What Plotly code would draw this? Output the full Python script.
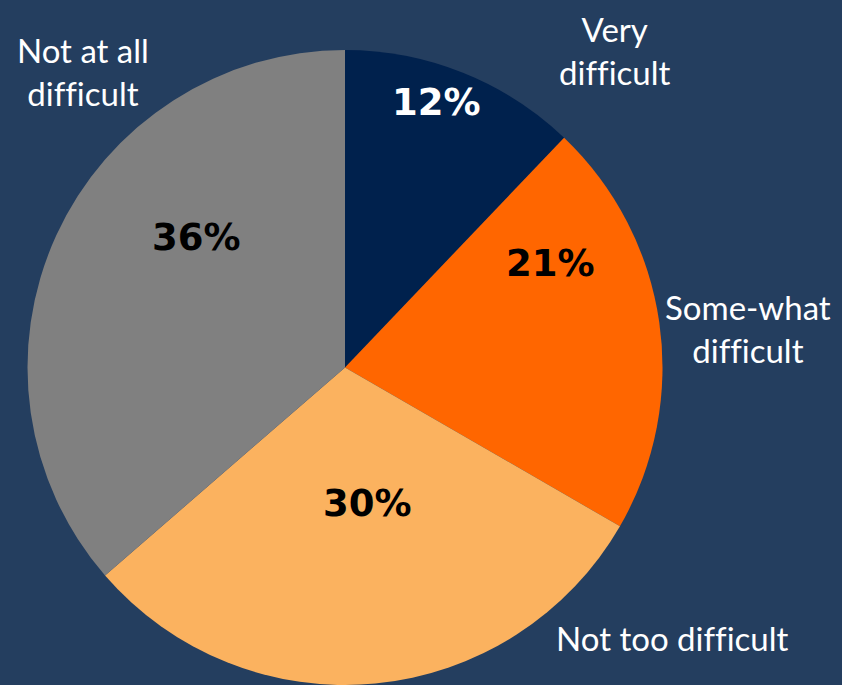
import plotly.graph_objects as go

categories = ["Very difficult", "Some-what difficult", "Not too difficult", "Not at all difficult"]
values = [12, 21, 30, 36]
label_lines = ["Very<br>difficult", "Some-what<br>difficult", "Not too difficult", "Not at all<br>difficult"]

colors = ["#00214D", "#FF6600", "#FBB25F", "#808080"]
pct_colors = ["white", "black", "black", "black"]
BG = "#243E5F"

W, H = 842, 685

fig = go.Figure(go.Pie(
    labels=categories,
    values=values,
    sort=False,
    direction="clockwise",
    rotation=0,
    marker=dict(colors=colors, line=dict(width=0)),
    textinfo="none",
    domain=dict(x=[27 / W, 663 / W], y=[0, 1 - 50 / H]),
    showlegend=False,
    hoverinfo="label+percent",
))

# percentage labels (pixel centres -> paper coordinates)
pct_pos = [(437, 102), (550, 263), (367, 503), (196, 238)]
for v, c, (px, py) in zip(values, pct_colors, pct_pos):
    fig.add_annotation(
        x=px / W, y=1 - py / H, xref="paper", yref="paper",
        text=f"{v}%", showarrow=False, xanchor="center", yanchor="middle",
        font=dict(family="DejaVu Sans", size=37, color=c, weight="bold"),
    )

# outside category labels
label_pos = [(615, 50), (748, 328), (672, 638), (83, 72)]
for txt, (px, py) in zip(label_lines, label_pos):
    fig.add_annotation(
        x=px / W, y=1 - py / H, xref="paper", yref="paper",
        text=txt, showarrow=False, xanchor="center", yanchor="middle",
        font=dict(family="Lato", size=33, color="white"),
    )

fig.update_layout(
    width=W, height=H,
    margin=dict(l=0, r=0, t=0, b=0),
    paper_bgcolor=BG, plot_bgcolor=BG,
)

post = (
    "document.body.style.margin='0';"
    "document.body.style.overflow='hidden';"
    "document.body.style.background='" + BG + "';"
    "var s=document.createElement('style');"
    "s.textContent='text{font-variant-ligatures:none !important;font-feature-settings:\"liga\" 0 !important;}';"
    "document.head.appendChild(s);"
)

fig.write_html("out.html", post_script=post, config={"displayModeBar": False})
